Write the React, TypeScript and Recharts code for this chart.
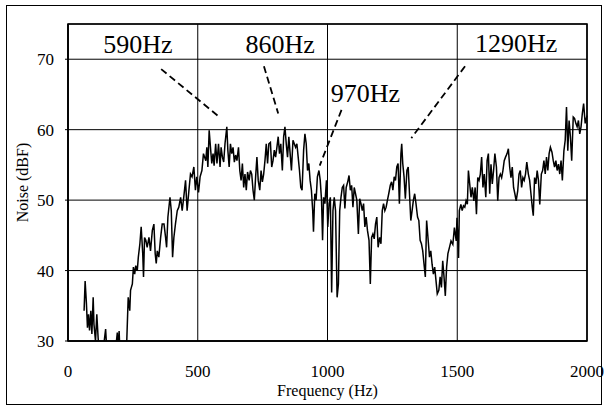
import React from 'react';
import { LineChart, Line, XAxis, YAxis, CartesianGrid, ReferenceLine, ReferenceDot, ReferenceArea } from 'recharts';

const freqs: number[] = [
  62, 66, 71, 75, 79, 83, 88, 92, 97, 100, 106, 111, 116, 120, 130, 145, 149, 160, 171, 180, 190, 194, 197, 200, 212, 226,
  232, 238, 241, 248, 252, 257, 261, 267, 271, 277, 282, 288, 291, 295, 300, 305, 312, 318, 325, 331, 336, 340, 344, 350,
  357, 363, 370, 376, 380, 385, 393, 398, 403, 408, 414, 421, 427, 434, 440, 446, 453, 459, 466, 472, 478, 485, 491,
  496, 503, 509, 516, 522, 531, 535, 539, 544, 549, 554, 559, 563, 569, 574, 580, 586, 590, 595, 600, 605, 612, 616, 621,
  626, 631, 636, 641, 646, 651, 657, 662, 667, 672, 677, 682, 687, 692, 698, 703, 708, 713, 718, 723, 728, 733, 739, 744,
  749, 754, 759, 764, 769, 774, 780, 785, 790, 795, 800, 805, 810, 815, 820, 826, 831, 836, 841, 846, 851, 856, 861, 867,
  872, 877, 882, 887, 892, 897, 902, 908, 913, 918, 923, 928, 933, 938, 943, 946, 951, 956, 961, 967, 972, 977, 981, 985,
  990, 996, 1001, 1006, 1011, 1016, 1021, 1026, 1031, 1037, 1042, 1047, 1052, 1057, 1062, 1067, 1072, 1078, 1083, 1088,
  1093, 1098, 1103, 1108, 1113, 1119, 1124, 1129, 1134, 1139, 1144, 1149, 1154, 1160, 1165, 1170, 1175, 1180, 1185, 1190,
  1195, 1201, 1206, 1211, 1216, 1221, 1226, 1231, 1236, 1242, 1247, 1252, 1257, 1262, 1267, 1272, 1277, 1283, 1286, 1290,
  1295, 1300, 1306, 1311, 1316, 1321, 1326, 1331, 1336, 1341, 1347, 1352, 1357, 1362, 1367, 1372, 1377, 1382, 1388, 1393,
  1398, 1403, 1408, 1413, 1418, 1423, 1429, 1434, 1439, 1444, 1449, 1454, 1459, 1464, 1470, 1476, 1483, 1489, 1496, 1499,
  1505, 1508, 1514, 1519, 1524, 1529, 1534, 1539, 1543, 1548, 1553, 1558, 1564, 1569, 1574, 1579, 1584, 1589, 1594, 1599,
  1604, 1610, 1615, 1620, 1625, 1630, 1635, 1640, 1645, 1651, 1656, 1661, 1666, 1671, 1676, 1681, 1686, 1692, 1697, 1702,
  1707, 1712, 1717, 1722, 1727, 1733, 1738, 1743, 1748, 1753, 1758, 1763, 1768, 1774, 1779, 1784, 1789, 1793, 1798, 1803,
  1808, 1813, 1818, 1824, 1829, 1834, 1839, 1844, 1849, 1854, 1859, 1865, 1870, 1875, 1880, 1885, 1890, 1895, 1900, 1905,
  1911, 1916, 1921, 1926, 1931, 1936, 1941, 1947, 1952, 1957, 1962, 1967, 1972, 1977, 1982, 1987, 1993, 2000,
];

const noise: number[] = [
  34.3, 38.5, 35.3, 31.9, 33.8, 31.5, 34.3, 31.0, 36.2, 32.4, 30.0, 33.8, 30.5, 28.5, 27, 31.7, 29, 27.5, 29, 27.5, 31.2, 28.5, 31.4, 28.5, 27.5, 29.5,
  36.2, 34.3, 37.2, 38.1, 40.5, 39.5, 40.7, 40.0, 41.9, 43.8, 46.2, 42.4, 39.1, 44.7, 44.3, 43.3, 44.7, 42.8, 45.7, 46.6, 42.4, 41.0, 42.8, 41.9,
  44.7, 46.6, 46.6, 44.7, 43.3, 47.6, 50.4, 48.5, 41.9, 44.7, 46.6, 48.5, 49.0, 50.4, 48.5, 50.4, 52.8, 48.5, 51.4, 53.7, 53.3, 54.7, 51.4,
  53.3, 51.1, 53.3, 54.2, 56.6, 55.6, 57.5, 54.7, 59.9, 57.5, 55.2, 56.6, 54.9, 58.0, 55.2, 58.0, 54.7, 57.5, 56.1, 55.4, 58.0, 60.4, 57.1, 54.7,
  58.0, 56.6, 57.5, 55.4, 56.4, 55.6, 57.5, 54.2, 52.8, 55.2, 51.8, 53.7, 51.4, 54.0, 52.8, 54.2, 53.7, 51.4, 50.0, 53.3, 56.1, 52.8, 51.4, 54.2,
  52.6, 53.7, 55.6, 58.0, 55.2, 58.0, 58.2, 54.7, 55.6, 57.1, 56.1, 57.5, 59.0, 56.6, 58.0, 54.2, 59.0, 60.4, 58.0, 56.1, 59.0, 56.6, 54.2, 58.5,
  58.0, 57.5, 58.0, 56.1, 54.2, 51.8, 51.4, 57.1, 59.4, 58.0, 54.2, 55.2, 52.8, 51.4, 48.5, 45.5, 50.9, 50.0, 53.3, 54.2, 52.8, 50.0, 44.3, 50.4,
  49.5, 52.8, 46.2, 49.5, 50.4, 36.9, 48.5, 50.4, 48.5, 36.2, 38.1, 48.5, 50.4, 51.8, 52.1, 48.8, 51.8, 52.6, 53.5, 51.4,
  52.1, 49.0, 51.8, 50.9, 50.0, 45.2, 50.2, 49.5, 48.5, 49.5, 46.2, 47.6, 45.7, 44.3, 38.1, 44.7, 45.2, 44.5, 46.6, 47.6,
  43.3, 44.7, 43.8, 48.5, 49.5, 48.5, 49.0, 50.0, 50.9, 52.1, 52.6, 51.4, 53.3, 52.8, 54.7, 55.2, 49.5, 56.6, 58.0, 55.2,
  53.3, 50.2, 54.2, 54.7, 50.9, 47.1, 48.5, 50.0, 50.9, 49.5, 47.6, 47.1, 44.3, 43.8, 42.8, 40.9, 39.1, 47.1, 44.3, 41.9,
  42.8, 40.9, 39.5, 40.5, 38.6, 36.7, 37.2, 39.1, 37.6, 41.4, 39.1, 36.4, 40.5, 42.4, 43.3, 44.2, 43.7, 46.1, 44.2, 47.5,
  41.8, 48.5, 49.4, 48.5, 49.2, 49.0, 49.9, 49.4, 54.2, 52.3, 50.4, 51.8, 49.9, 51.8, 48.0, 53.2, 52.8, 53.7, 56.1, 51.8,
  53.7, 50.4, 55.6, 56.6, 50.9, 55.1, 52.3, 54.2, 56.6, 54.7, 49.9, 53.2, 53.7, 53.2, 54.2, 55.6, 56.1, 56.6, 57.3, 54.7,
  53.2, 54.7, 51.8, 50.9, 49.9, 51.3, 53.7, 54.2, 51.8, 53.2, 52.8, 53.7, 55.4, 53.7, 52.8, 50.9, 49.0, 47.8, 53.2, 52.3,
  54.2, 52.8, 49.4, 53.7, 54.2, 55.6, 53.7, 56.1, 54.2, 56.6, 57.5, 56.8, 55.6, 54.7, 55.6, 54.2, 55.1, 53.7, 55.6, 52.8,
  57.0, 58.5, 63.2, 57.0, 61.3, 59.0, 55.6, 61.8, 61.6, 60.9, 60.4, 61.3, 59.4, 60.4, 62.3, 63.7, 60.9, 62.0,
];

const xTicks: number[] = [0, 500, 1000, 1500, 2000];
const yTicks: number[] = [30, 40, 50, 60, 70];

const annotationLabels: string[] = ['590Hz', '860Hz', '970Hz', '1290Hz'];
const annotationTextX: number[] = [269, 818, 1146, 1727];
const annotationTextY: number[] = [72.2, 72.2, 65.3, 72.4];
const leaderStartX: number[] = [359, 755, 1054, 1530];
const leaderStartY: number[] = [68.6, 69.0, 62.8, 69.0];
const leaderEndX: number[] = [583, 810, 970, 1323];
const leaderEndY: number[] = [61.8, 62.3, 54.9, 58.8];

const data = freqs.map((f, i) => ({ f, v: noise[i] }));

const FONT = '"Liberation Serif", "Times New Roman", serif';

export default function App() {
  return (
    <div style={{ position: 'absolute', left: 0, top: 0, width: 604, height: 406, background: '#fff' }}>
      <div
        style={{
          position: 'absolute',
          left: 6,
          top: 5,
          width: 596,
          height: 400,
          border: '1.3px solid #000',
          boxSizing: 'border-box',
        }}
      />
      <div style={{ position: 'absolute', left: 0, top: 0 }}>
        <LineChart
          width={604}
          height={406}
          data={data}
          margin={{ top: 24, right: 17, bottom: 5, left: 8 }}
          style={{ fontFamily: FONT }}
        >
          <CartesianGrid stroke="#000" strokeWidth={1} />
          <XAxis
            dataKey="f"
            type="number"
            domain={[0, 2000]}
            ticks={xTicks}
            tickLine={false}
            tickSize={0}
            tickMargin={24}
            height={60}
            axisLine={{ stroke: '#000', strokeWidth: 1.6 }}
            tick={{ fill: '#000', fontSize: 17, fontFamily: FONT }}
            label={{ value: 'Frequency (Hz)', position: 'insideBottom', offset: 5, fill: '#000', fontSize: 16, fontFamily: FONT }}
          />
          <YAxis
            type="number"
            domain={[30, 75]}
            ticks={yTicks}
            allowDataOverflow
            width={60}
            tickSize={3}
            tickMargin={11}
            tickLine={{ stroke: '#000' }}
            axisLine={{ stroke: '#000', strokeWidth: 1.6 }}
            tick={{ fill: '#000', fontSize: 17, fontFamily: FONT }}
            label={{
              value: 'Noise (dBF)',
              angle: -90,
              position: 'insideLeft',
              offset: 14,
              style: { textAnchor: 'middle' },
              fill: '#000',
              fontSize: 16,
              fontFamily: FONT,
            }}
          />
          <ReferenceArea x1={0} x2={2000} y1={30} y2={75} fill="none" stroke="#000" strokeWidth={1.6} />
          <Line
            type="linear"
            dataKey="v"
            stroke="#000"
            strokeWidth={1.5}
            dot={false}
            isAnimationActive={false}
          />
          {annotationLabels.map((lab, i) => (
            <ReferenceLine
              key={'l' + lab}
              segment={[
                { x: leaderStartX[i], y: leaderStartY[i] },
                { x: leaderEndX[i], y: leaderEndY[i] },
              ]}
              stroke="#000"
              strokeWidth={1.8}
              strokeDasharray="7 4"
            />
          ))}
          {annotationLabels.map((lab, i) => (
            <ReferenceDot
              key={'t' + lab}
              x={annotationTextX[i]}
              y={annotationTextY[i]}
              r={0}
              fill="none"
              stroke="none"
              label={{ value: lab, position: 'center', fill: '#000', fontSize: 26, fontFamily: FONT }}
            />
          ))}
        </LineChart>
      </div>
    </div>
  );
}
